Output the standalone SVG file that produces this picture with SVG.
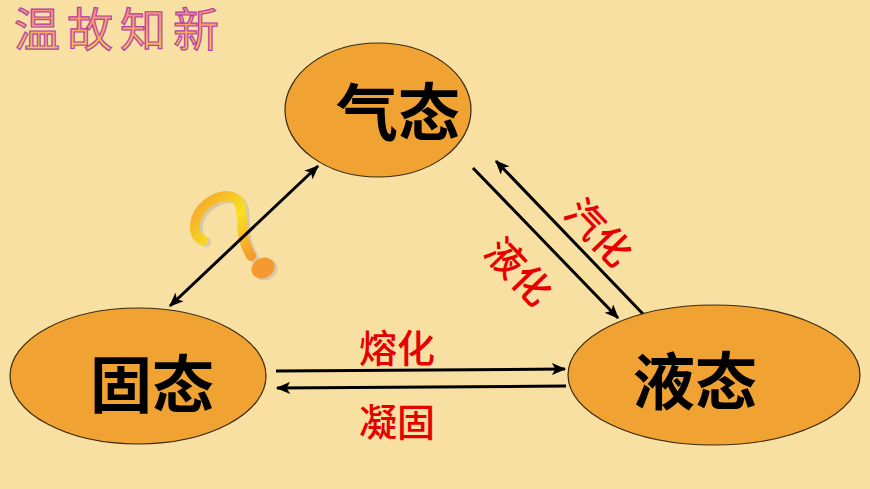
<svg xmlns="http://www.w3.org/2000/svg" width="870" height="489" viewBox="0 0 870 489">
<defs>
<style>
.node{fill:#F0A232;stroke:#3a2a10;stroke-width:1.2}
.nt{font-family:"Noto Sans CJK SC","Noto Sans",sans-serif;font-weight:bold;font-size:62px;fill:#000;text-anchor:middle}
.lb{font-family:"Noto Sans CJK SC","Noto Sans",sans-serif;font-weight:500;font-size:38px;fill:#E60000;text-anchor:middle}
.ln{stroke:#000;stroke-width:3;fill:none}
</style>
<marker id="ah" viewBox="0 0 12 10" refX="11" refY="5" markerWidth="5" markerHeight="4" orient="auto-start-reverse" markerUnits="strokeWidth">
<path d="M0,0 L12,5 L0,10 L3,5 Z" fill="#000"/>
</marker>
<linearGradient id="tg" x1="0" y1="0" x2="0" y2="1">
<stop offset="0" stop-color="#F47A8C"/>
<stop offset="0.5" stop-color="#F9A060"/>
<stop offset="1" stop-color="#F7D040"/>
</linearGradient>
<linearGradient id="qg" x1="0" y1="0" x2="1" y2="1">
<stop offset="0" stop-color="#F5A030"/>
<stop offset="0.55" stop-color="#F8E020"/>
<stop offset="1" stop-color="#F59A30"/>
</linearGradient>
</defs>
<rect width="870" height="489" fill="#F8E0A2"/>
<text x="14" y="46" font-family="'Noto Sans CJK SC',sans-serif" font-size="46" fill="url(#tg)" stroke="#B040B0" stroke-width="1.2" letter-spacing="7">温故知新</text>

<g id="question">
<path d="M203,240 C190,236 193,214 208,203 C222,193 238,193 241,208 C243,224 240,238 251,256" stroke="#D8C8A8" stroke-width="10" fill="none" stroke-linecap="round" transform="translate(3,2)"/>
<path d="M203,240 C190,236 193,214 208,203 C222,193 238,193 241,208 C243,224 240,238 251,256" stroke="url(#qg)" stroke-width="10" fill="none" stroke-linecap="round"/>
<ellipse cx="266" cy="270" rx="12" ry="10" transform="rotate(-30 266 270)" fill="#D8C8A8"/>
<ellipse cx="263" cy="268" rx="12" ry="10" transform="rotate(-30 263 268)" fill="#F59A30"/>
</g>

<g id="connectors">
<line class="ln" x1="170" y1="306" x2="318" y2="166" marker-start="url(#ah)" marker-end="url(#ah)"/>
<line class="ln" x1="473" y1="168" x2="618" y2="318" marker-end="url(#ah)"/>
<line class="ln" x1="644" y1="315" x2="496" y2="161" marker-end="url(#ah)"/>
<line class="ln" x1="276" y1="371" x2="565" y2="369" marker-end="url(#ah)"/>
<line class="ln" x1="566" y1="386" x2="277" y2="388" marker-end="url(#ah)"/>
<text class="lb" x="397" y="362">熔化</text>
<text class="lb" x="397" y="436">凝固</text>
<text class="lb" transform="translate(598,233) rotate(46)" y="13">汽化</text>
<text class="lb" transform="translate(518,272) rotate(46)" y="13">液化</text>
</g>

<g id="gas">
<ellipse class="node" cx="378" cy="110" rx="93" ry="67"/>
<text class="nt" x="398" y="136">气态</text>
</g>
<g id="solid">
<ellipse class="node" cx="138" cy="376" rx="128" ry="68"/>
<text class="nt" x="152" y="408">固态</text>
</g>
<g id="liquid">
<ellipse class="node" cx="714" cy="375" rx="146" ry="70"/>
<text class="nt" x="695" y="405">液态</text>
</g>
</svg>
